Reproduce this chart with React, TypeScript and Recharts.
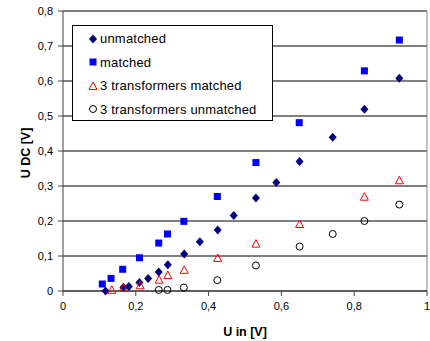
import {
  ScatterChart,
  Scatter,
  XAxis,
  YAxis,
  CartesianGrid,
  ReferenceLine,
  Legend,
} from "recharts";

const unmatchedUin = [0.117, 0.166, 0.181, 0.21, 0.234, 0.263, 0.288, 0.333, 0.376, 0.425, 0.469, 0.53, 0.586, 0.65, 0.741, 0.828, 0.924];
const unmatchedUdc = [0.0, 0.011, 0.013, 0.024, 0.036, 0.054, 0.075, 0.106, 0.141, 0.174, 0.216, 0.266, 0.31, 0.37, 0.439, 0.519, 0.608];

const matchedUin = [0.108, 0.132, 0.164, 0.21, 0.263, 0.287, 0.332, 0.424, 0.53, 0.649, 0.828, 0.924];
const matchedUdc = [0.02, 0.036, 0.062, 0.095, 0.137, 0.163, 0.199, 0.27, 0.367, 0.481, 0.629, 0.717];

const tr3MatchedUin = [0.134, 0.166, 0.212, 0.264, 0.288, 0.333, 0.425, 0.53, 0.65, 0.828, 0.924];
const tr3MatchedUdc = [0.002, 0.008, 0.015, 0.031, 0.044, 0.059, 0.093, 0.134, 0.19, 0.268, 0.315];

const tr3UnmatchedUin = [0.263, 0.287, 0.332, 0.424, 0.53, 0.65, 0.741, 0.828, 0.924];
const tr3UnmatchedUdc = [0.003, 0.003, 0.01, 0.031, 0.073, 0.127, 0.163, 0.2, 0.247];

const xTicks = [0, 0.2, 0.4, 0.6, 0.8, 1];
const yTicks = [0, 0.1, 0.2, 0.3, 0.4, 0.5, 0.6, 0.7, 0.8];

const legendNames = ["unmatched", "matched", "3 transformers matched", "3 transformers unmatched"];

const pairs = (xs: number[], ys: number[]) => xs.map((x, i) => ({ x, y: ys[i] }));

const FONT = "'Liberation Sans', Arial, sans-serif";
const comma = (v: number) => String(Math.round(v * 10) / 10).replace(".", ",");

const Diamond = (p: any) => (
  <path
    d={`M${p.cx},${p.cy - 4.5}L${p.cx + 4},${p.cy}L${p.cx},${p.cy + 4.5}L${p.cx - 4},${p.cy}Z`}
    fill="#000080"
  />
);
const Square = (p: any) => <rect x={p.cx - 3.5} y={p.cy - 3.5} width={7} height={7} fill="#0000ff" />;
const Triangle = (p: any) => (
  <path
    d={`M${p.cx},${p.cy - 4.5}L${p.cx + 4},${p.cy + 3}L${p.cx - 4},${p.cy + 3}Z`}
    fill="none"
    stroke="#ff0000"
    strokeWidth={1}
  />
);
const Circle = (p: any) => <circle cx={p.cx} cy={p.cy} r={3.5} fill="none" stroke="#000" strokeWidth={1} />;

const legendMarks = [
  <svg width={10} height={10}><path d="M5,0.5L9,5L5,9.5L1,5Z" fill="#000080" /></svg>,
  <svg width={10} height={10}><rect x={1.5} y={1.5} width={7} height={7} fill="#0000ff" /></svg>,
  <svg width={10} height={10}><path d="M5,1L9,8.5L1,8.5Z" fill="none" stroke="#ff0000" /></svg>,
  <svg width={10} height={10}><circle cx={5} cy={5} r={3.5} fill="none" stroke="#000" /></svg>,
];

const renderLegend = () => (
  <div
    style={{
      width: 201,
      height: 96,
      border: "1px solid #000",
      background: "#fff",
      fontFamily: FONT,
      fontSize: 13,
      letterSpacing: 0.2,
      color: "#000",
      padding: "1px 0 0 15px",
      boxSizing: "border-box",
    }}
  >
    {legendNames.map((n, i) => (
      <div key={n} style={{ display: "flex", alignItems: "center", height: 23.5 }}>
        <span style={{ width: 12, display: "inline-flex" }}>{legendMarks[i]}</span>
        <span>{n}</span>
      </div>
    ))}
  </div>
);

export default function App() {
  const tick = { fontSize: 11, fill: "#000", fontFamily: FONT };
  return (
    <div style={{ position: "absolute", left: 0, top: 0, background: "#fff" }}>
      <ScatterChart width={430} height={341} margin={{ top: 11, right: 3, bottom: 0, left: 0 }}>
        <CartesianGrid vertical={false} stroke="#000" strokeWidth={1} />
        <XAxis
          type="number"
          dataKey="x"
          domain={[0, 1]}
          ticks={xTicks}
          tickFormatter={comma}
          height={50}
          stroke="#404040"
          tickSize={5}
          tickMargin={6}
          tick={tick}
          label={{ value: "U in [V]", position: "insideBottom", offset: 5, style: { fontSize: 12.5, fontWeight: "bold", fill: "#000", fontFamily: FONT } }}
        />
        <YAxis
          type="number"
          dataKey="y"
          domain={[0, 0.8]}
          ticks={yTicks}
          tickFormatter={comma}
          width={63}
          stroke="#404040"
          tickSize={5}
          tickMargin={5}
          tick={tick}
          label={{ value: "U DC [V]", angle: -90, position: "center", dx: -6, dy: 2, style: { fontSize: 12.5, fontWeight: "bold", fill: "#000", fontFamily: FONT } }}
        />
        <ReferenceLine y={0.8} stroke="#808080" />
        <ReferenceLine x={1} stroke="#808080" />
        <Legend
          layout="horizontal"
          verticalAlign="middle"
          align="center"
          content={renderLegend}
          wrapperStyle={{ left: 72, top: 25, width: "auto", height: "auto" }}
        />
        <Scatter name="unmatched" data={pairs(unmatchedUin, unmatchedUdc)} shape={Diamond} isAnimationActive={false} />
        <Scatter name="matched" data={pairs(matchedUin, matchedUdc)} shape={Square} isAnimationActive={false} />
        <Scatter name="3 transformers matched" data={pairs(tr3MatchedUin, tr3MatchedUdc)} shape={Triangle} isAnimationActive={false} />
        <Scatter name="3 transformers unmatched" data={pairs(tr3UnmatchedUin, tr3UnmatchedUdc)} shape={Circle} isAnimationActive={false} />
      </ScatterChart>
    </div>
  );
}
